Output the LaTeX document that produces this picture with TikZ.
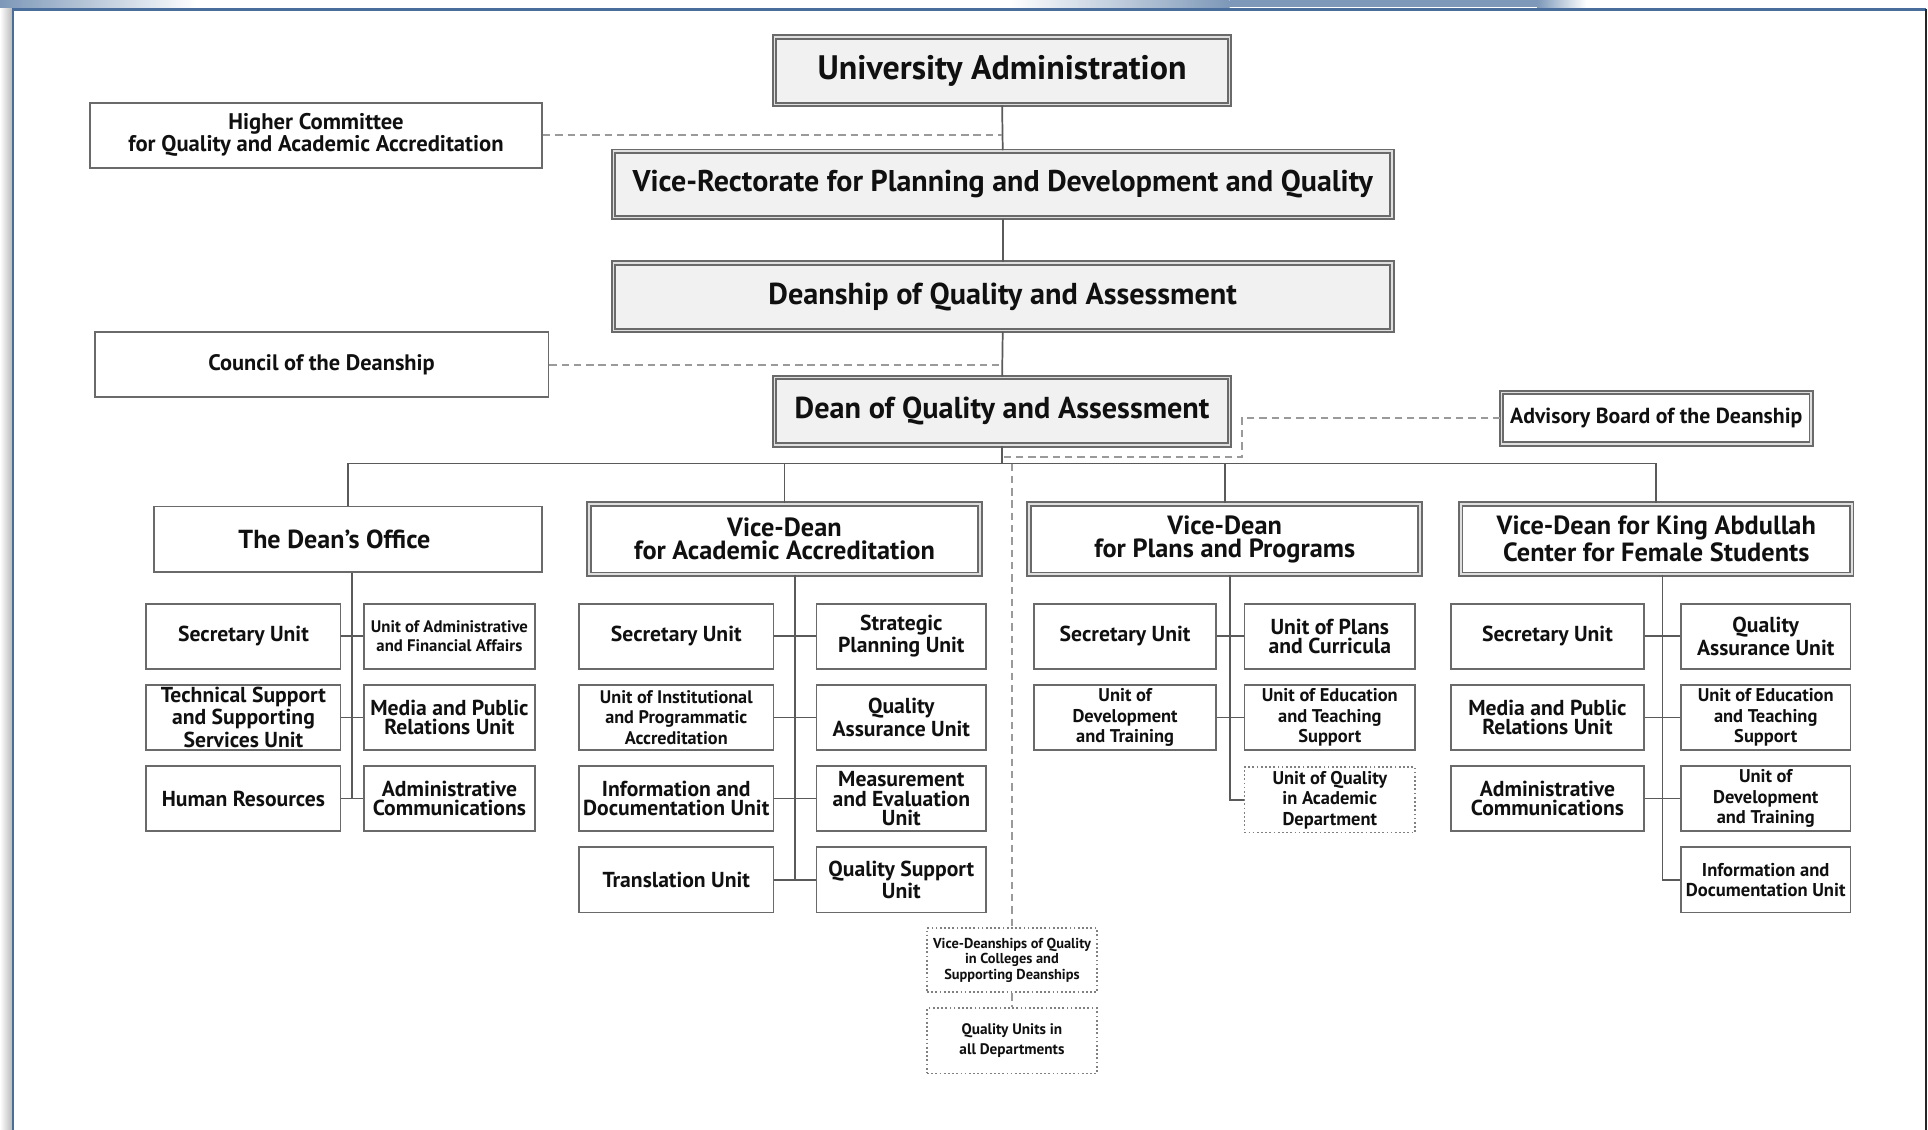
\documentclass[tikz,border=0pt]{standalone}
\usepackage{fontspec}
\setmainfont{PT Sans}
\usetikzlibrary{calc}
\definecolor{framec}{HTML}{4A6E9C}
\definecolor{bordc}{HTML}{6A6A6A}
\definecolor{boxg}{HTML}{F1F1F1}
\definecolor{linec}{HTML}{5A5A5A}
\definecolor{dashc}{HTML}{9A9A9A}
\definecolor{topblue}{HTML}{7D98B8}
\definecolor{txt}{HTML}{101010}
\newcommand\myfs[2]{\fontsize{#1}{#2}\selectfont\bfseries}
\begin{document}
\begin{tikzpicture}[x=0.5pt,y=-0.5pt,
  sz/.style 2 args={minimum width=#1*0.5pt, minimum height=#2*0.5pt},
  base/.style={inner sep=0pt, align=center, text=txt},
  gbox/.style={base, draw=bordc, line width=0.8pt, double=gray!25, double distance=0.6pt, fill=boxg},
  wdbox/.style={base, draw=bordc, line width=0.8pt, double=gray!25, double distance=0.6pt, fill=white},
  wbox/.style={base, draw=bordc, line width=0.7pt, fill=white},
  dbox/.style={base, draw=gray, line width=0.7pt, densely dotted, fill=white},
  ubox/.style={wbox, sz={158}{53}},
  conn/.style={draw=linec, line width=0.7pt},
  dsh/.style={draw=dashc, line width=0.8pt, dash pattern=on 3pt off 2pt},
  uf/.style={font=\myfs{8.8}{7.9}},
  sf/.style={font=\myfs{7.5}{8.3}}
]
\useasboundingbox (0,0) rectangle (1568,919);
% frame
\fill[white] (0,0) rectangle (1568,919);
\shade[left color=white, right color=gray!55] (0,7) rectangle (10,919);
\shade[left color=topblue, right color=white] (0,0) rectangle (160,6);
\shade[left color=white, right color=topblue] (820,0) rectangle (1000,6);
\fill[topblue] (1000,0) rectangle (1250,6);
\shade[left color=topblue, right color=white] (1250,0) rectangle (1290,6);
\draw[framec, line width=1.1pt] (10.5,919) -- (10.5,7.5) -- (1566,7.5);
\draw[gray!30!black, line width=0.8pt] (1566.5,7.5) -- (1566.5,919);

% top chain
\node[gbox, sz={370}{55}, font=\myfs{13.8}{14}] (ua) at (815,57.5) {\raisebox{-1pt}{University Administration}};
\node[wbox, sz={368}{53}, font=\myfs{9.2}{9}] (hc) at (257,110) {Higher Committee\\for Quality and Academic Accreditation};
\node[gbox, sz={633}{54}, font=\myfs{12.2}{12}] (vr) at (815.5,150) {\raisebox{-0.5pt}{Vice-Rectorate for Planning and Development and Quality}};
\node[gbox, sz={633}{55}, font=\myfs{12.3}{12}] (dq) at (815.5,241.5) {\raisebox{-1pt}{Deanship of Quality and Assessment}};
\node[wbox, sz={369}{53}, font=\myfs{9.1}{9}] (cd) at (261.5,296.5) {Council of the Deanship};
\node[gbox, sz={370}{55}, font=\myfs{12.3}{13}] (dean) at (815,334.5) {\raisebox{-1pt}{Dean of Quality and Assessment}};
\node[wdbox, sz={252}{42}, font=\myfs{8.85}{9}] (adv) at (1347,340) {Advisory Board of the Deanship};

% second level
\node[wbox, sz={316}{53}, font=\myfs{10.6}{11}] (do) at (283,438.5) {\hspace*{-11pt}The Dean's Office};
\node[wdbox, sz={318}{57}, font=\myfs{10.7}{9.4}] (vda) at (638,438.5) {Vice-Dean\\for Academic Accreditation};
\node[wdbox, sz={318}{57}, font=\myfs{10.7}{9.4}] (vdp) at (996,438.5) {Vice-Dean\\for Plans and Programs};
\node[wdbox, sz={318}{57}, font=\myfs{10.7}{9.4}] (vdk) at (1347,438.5) {Vice-Dean for King Abdullah\\Center for Female Students};

% Dean's office units
\node[ubox, uf] (dol1) at (198,517.5) {Secretary Unit};
\node[ubox, sz={139}{53}, font=\myfs{6.8}{8}] (dor1) at (365.5,517.5) {Unit of Administrative\\and Financial Affairs};
\node[ubox, uf] (dol2) at (198,583.5) {Technical Support\\and Supporting\\Services Unit};
\node[ubox, sz={139}{53}, uf] (dor2) at (365.5,583.5) {Media and Public\\Relations Unit};
\node[ubox, uf] (dol3) at (198,649.5) {Human Resources};
\node[ubox, sz={139}{53}, uf] (dor3) at (365.5,649.5) {Administrative\\Communications};

% Academic accreditation units
\node[ubox, font=\myfs{7.4}{8.3}] (al2) at (550,583.5) {Unit of Institutional\\and Programmatic\\Accreditation};
\node[ubox, uf] (al1) at (550,517.5) {Secretary Unit};
\node[ubox, sz={138}{53}, uf] (ar1) at (733,517.5) {Strategic\\Planning Unit};
\node[ubox, sz={138}{53}, uf] (ar2) at (733,583.5) {Quality\\Assurance Unit};
\node[ubox, uf] (al3) at (550,649.5) {Information and\\Documentation Unit};
\node[ubox, sz={138}{53}, uf] (ar3) at (733,649.5) {Measurement\\and Evaluation\\Unit};
\node[ubox, uf] (al4) at (550,715.5) {Translation Unit};
\node[ubox, sz={138}{53}, uf] (ar4) at (733,715.5) {Quality Support\\Unit};

% Plans and programs units
\node[ubox, sz={148}{53}, uf] (pl1) at (915,517.5) {Secretary Unit};
\node[ubox, sz={139}{53}, uf] (pr1) at (1081.5,517.5) {Unit of Plans\\and Curricula};
\node[ubox, sz={148}{53}, sf] (pl2) at (915,583.5) {Unit of\\Development\\and Training};
\node[ubox, sz={139}{53}, sf] (pr2) at (1081.5,583.5) {Unit of Education\\and Teaching\\Support};
\node[dbox, sz={139}{53}, sf] (pr3) at (1081.5,650.5) {Unit of Quality\\in Academic\\Department};

% King Abdullah center units
\node[ubox, sz={157}{53}, uf] (kl1) at (1258.5,517.5) {Secretary Unit};
\node[ubox, sz={138}{53}, uf] (kr1) at (1436,517.5) {Quality\\Assurance Unit};
\node[ubox, sz={157}{53}, uf] (kl2) at (1258.5,583.5) {Media and Public\\Relations Unit};
\node[ubox, sz={138}{53}, sf] (kr2) at (1436,583.5) {Unit of Education\\and Teaching\\Support};
\node[ubox, sz={157}{53}, uf] (kl3) at (1258.5,649.5) {Administrative\\Communications};
\node[ubox, sz={138}{53}, sf] (kr3) at (1436,649.5) {Unit of\\Development\\and Training};
\node[ubox, sz={138}{53}, font=\myfs{7.55}{8.3}] (kr4) at (1436,715.5) {Information and\\Documentation Unit};

% colleges
\node[dbox, sz={138}{52}, font=\myfs{5.85}{6.2}] (vdq) at (823,781) {Vice-Deanships of Quality\\in Colleges and\\Supporting Deanships};
\node[dbox, sz={138}{53}, font=\myfs{6.2}{8}] (qu) at (823,846.5) {Quality Units in\\all Departments};

% main chain connectors
\draw[conn] (ua.south) -- (vr.north);
\draw[conn] (vr.south) -- (dq.north);
\draw[conn] (dq.south) -- (dean.north);
\coordinate (bus) at (815,377);
\draw[conn] (dean.south) -- (dean.south |- bus);
\draw[conn] (do.north) -- (do.north |- bus) -- (vdk.north |- bus) -- (vdk.north);
\draw[conn] (vda.north) -- (vda.north |- bus);
\draw[conn] (vdp.north) -- (vdp.north |- bus);

% dashed links
\draw[dsh] (hc.east) -- (hc.east -| ua.south);
\draw[dsh] (cd.east) -- (cd.east -| ua.south);
\coordinate (advk) at (1010,372);
\draw[dsh] (adv.west) -| (advk) -- (advk -| dean.south);
\draw[dsh] (vdq.north |- bus) -- (vdq.north);
\draw[dsh] (vdq.south) -- (qu.north);

% Dean's office spine
\coordinate (spD) at ($(dol1.east)!.5!(dor1.west)$);
\draw[conn] (spD |- do.south) -- (spD |- dol3.east);
\foreach \r in {1,2,3} \draw[conn] (dol\r.east) -- (dor\r.west);

% Academic spine
\coordinate (spA) at ($(al1.east)!.5!(ar1.west)$);
\draw[conn] (spA |- vda.south) -- (spA |- al4.east);
\foreach \r in {1,2,3,4} \draw[conn] (al\r.east) -- (ar\r.west);

% Plans spine
\coordinate (spP) at ($(pl1.east)!.5!(pr1.west)$);
\draw[conn] (spP |- vdp.south) -- (spP |- pr3.west) -- (pr3.west);
\foreach \r in {1,2} \draw[conn] (pl\r.east) -- (pr\r.west);

% King spine
\coordinate (spK) at ($(kl1.east)!.5!(kr1.west)$);
\draw[conn] (spK |- vdk.south) -- (spK |- kr4.west) -- (kr4.west);
\foreach \r in {1,2,3} \draw[conn] (kl\r.east) -- (kr\r.west);
\end{tikzpicture}
\end{document}
